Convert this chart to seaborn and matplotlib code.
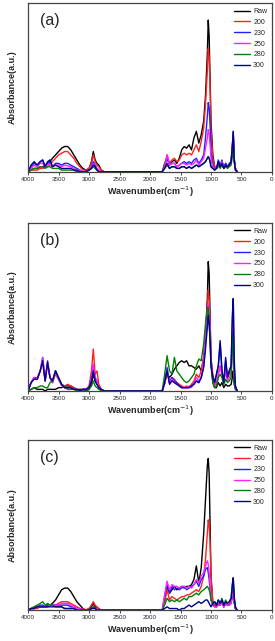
import numpy as np
import pandas as pd
import matplotlib
matplotlib.use('Agg')
import matplotlib.pyplot as plt
import seaborn as sns

# wavenumber grid (cm-1), high-frequency block then fingerprint block
wn_high = [4000, 3950, 3900, 3850, 3800, 3760, 3720, 3680, 3640, 3600,
           3550, 3500, 3450, 3400, 3350, 3300, 3250, 3200, 3150, 3100,
           3050, 3000, 2960, 2930, 2900, 2870, 2840, 2800, 2750]
wn_low = [1800, 1760, 1720, 1680, 1640, 1600, 1560, 1520, 1480, 1440,
          1400, 1360, 1320, 1280, 1240, 1200, 1160, 1120, 1090, 1060,
          1045, 1030, 1015, 1000, 970, 940, 910, 880, 850, 820,
          790, 760, 730, 700, 670, 650, 635, 620, 600, 570]

samples = ['Raw', '200', '230', '250', '280', '300']
colors = ['#000000', '#ff2020', '#2020ff', '#ff20ff', '#008000', '#000090']
panel_labels = ['(a)', '(b)', '(c)']

# ---- panel (a)
a_raw = [0, 0.01, 0.02, 0.02, 0.03, 0.03, 0.04, 0.05, 0.06, 0.08, 0.10, 0.12, 0.14, 0.15, 0.15, 0.13, 0.10, 0.07, 0.04, 0.02, 0.01, 0.02, 0.06, 0.12, 0.07, 0.05, 0.04, 0.01, 0,
         0, 0.05, 0.08, 0.05, 0.06, 0.07, 0.05, 0.08, 0.13, 0.15, 0.14, 0.16, 0.13, 0.20, 0.24, 0.17, 0.22, 0.30, 0.45, 0.70, 0.90, 0.80, 0.55, 0.30, 0.10, 0.03, 0.02, 0.04, 0.03, 0.06, 0.02, 0.05, 0.03, 0.04, 0.06, 0.15, 0.22, 0.08, 0.02, 0]
a_200 = [0, 0.01, 0.01, 0.01, 0.02, 0.02, 0.03, 0.03, 0.04, 0.06, 0.08, 0.10, 0.11, 0.12, 0.12, 0.10, 0.08, 0.05, 0.03, 0.01, 0.01, 0.02, 0.05, 0.10, 0.06, 0.04, 0.03, 0.01, 0,
         0, 0.04, 0.10, 0.05, 0.07, 0.08, 0.06, 0.07, 0.10, 0.11, 0.10, 0.11, 0.10, 0.13, 0.16, 0.12, 0.18, 0.26, 0.40, 0.60, 0.73, 0.68, 0.50, 0.25, 0.08, 0.03, 0.02, 0.03, 0.03, 0.05, 0.02, 0.04, 0.03, 0.04, 0.05, 0.13, 0.20, 0.07, 0.02, 0]
a_230 = [0, 0.03, 0.05, 0.04, 0.06, 0.07, 0.03, 0.05, 0.07, 0.03, 0.05, 0.05, 0.04, 0.05, 0.05, 0.04, 0.03, 0.02, 0.01, 0, 0, 0.01, 0.03, 0.06, 0.04, 0.02, 0.01, 0, 0,
         0, 0.03, 0.08, 0.04, 0.05, 0.05, 0.03, 0.04, 0.05, 0.06, 0.05, 0.06, 0.05, 0.07, 0.08, 0.05, 0.07, 0.10, 0.20, 0.33, 0.41, 0.38, 0.28, 0.12, 0.04, 0.02, 0.02, 0.07, 0.04, 0.07, 0.02, 0.05, 0.03, 0.05, 0.06, 0.15, 0.24, 0.08, 0.02, 0]
a_250 = [0, 0.02, 0.04, 0.03, 0.05, 0.05, 0.03, 0.04, 0.05, 0.03, 0.04, 0.04, 0.03, 0.04, 0.035, 0.03, 0.02, 0.01, 0.01, 0, 0, 0.01, 0.03, 0.05, 0.03, 0.02, 0.01, 0, 0,
         0, 0.03, 0.10, 0.04, 0.05, 0.05, 0.03, 0.04, 0.05, 0.05, 0.04, 0.05, 0.04, 0.05, 0.07, 0.04, 0.06, 0.08, 0.14, 0.20, 0.25, 0.23, 0.16, 0.08, 0.03, 0.02, 0.02, 0.05, 0.03, 0.06, 0.02, 0.04, 0.03, 0.04, 0.05, 0.13, 0.22, 0.07, 0.02, 0]
a_280 = [0, 0.01, 0.02, 0.02, 0.03, 0.03, 0.02, 0.03, 0.03, 0.02, 0.02, 0.02, 0.01, 0.01, 0.01, 0.01, 0.01, 0, 0, 0, 0, 0.01, 0.02, 0.03, 0.02, 0.01, 0, 0, 0,
         0, 0.02, 0.04, 0.02, 0.03, 0.03, 0.02, 0.02, 0.03, 0.03, 0.02, 0.03, 0.02, 0.03, 0.04, 0.03, 0.04, 0.05, 0.06, 0.08, 0.09, 0.08, 0.06, 0.03, 0.02, 0.01, 0.02, 0.04, 0.02, 0.04, 0.02, 0.03, 0.02, 0.03, 0.04, 0.10, 0.20, 0.06, 0.01, 0]
a_300 = [0, 0.04, 0.06, 0.04, 0.06, 0.07, 0.03, 0.06, 0.07, 0.03, 0.04, 0.03, 0.02, 0.02, 0.02, 0.02, 0.01, 0.01, 0, 0, 0, 0.01, 0.02, 0.04, 0.03, 0.01, 0, 0, 0,
         0, 0.02, 0.05, 0.02, 0.03, 0.03, 0.02, 0.02, 0.03, 0.03, 0.02, 0.03, 0.02, 0.03, 0.04, 0.03, 0.04, 0.05, 0.06, 0.08, 0.09, 0.08, 0.06, 0.03, 0.02, 0.01, 0.02, 0.06, 0.03, 0.05, 0.02, 0.04, 0.03, 0.04, 0.06, 0.15, 0.24, 0.07, 0.01, 0]

# ---- panel (b)
b_raw = [0, 0.01, 0.02, 0.01, 0.01, 0.01, 0, 0.01, 0.01, 0.01, 0.01, 0.02, 0.02, 0.03, 0.03, 0.03, 0.02, 0.01, 0.01, 0.01, 0, 0.01, 0.04, 0.10, 0.06, 0.04, 0.03, 0.01, 0,
         0, 0.05, 0.10, 0.08, 0.10, 0.13, 0.15, 0.17, 0.18, 0.17, 0.18, 0.15, 0.15, 0.14, 0.13, 0.15, 0.12, 0.20, 0.35, 0.55, 0.77, 0.70, 0.45, 0.20, 0.05, 0.02, 0.02, 0.05, 0.03, 0.05, 0.02, 0.04, 0.03, 0.03, 0.04, 0.08, 0.12, 0.04, 0.01, 0]
b_200 = [0, 0.05, 0.08, 0.08, 0.12, 0.17, 0.06, 0.16, 0.08, 0.05, 0.10, 0.07, 0.04, 0.03, 0.04, 0.03, 0.02, 0.01, 0, 0.01, 0.01, 0.03, 0.12, 0.25, 0.10, 0.12, 0.04, 0.01, 0,
         0, 0.05, 0.12, 0.05, 0.08, 0.07, 0.05, 0.04, 0.03, 0.02, 0.03, 0.02, 0.04, 0.06, 0.10, 0.08, 0.12, 0.20, 0.35, 0.50, 0.60, 0.55, 0.40, 0.20, 0.10, 0.05, 0.03, 0.10, 0.15, 0.10, 0.05, 0.15, 0.08, 0.10, 0.12, 0.33, 0.25, 0.08, 0.02, 0]
b_230 = [0, 0.05, 0.08, 0.07, 0.12, 0.20, 0.06, 0.18, 0.08, 0.05, 0.12, 0.07, 0.04, 0.02, 0.02, 0.02, 0.01, 0.01, 0, 0.01, 0.01, 0.02, 0.08, 0.15, 0.08, 0.06, 0.02, 0.01, 0,
         0, 0.05, 0.14, 0.05, 0.08, 0.06, 0.05, 0.03, 0.02, 0.02, 0.02, 0.02, 0.03, 0.04, 0.06, 0.05, 0.08, 0.15, 0.30, 0.42, 0.48, 0.44, 0.35, 0.18, 0.08, 0.05, 0.10, 0.15, 0.28, 0.12, 0.05, 0.18, 0.08, 0.12, 0.15, 0.40, 0.55, 0.15, 0.03, 0]
b_250 = [0, 0.05, 0.08, 0.07, 0.12, 0.20, 0.06, 0.17, 0.08, 0.05, 0.11, 0.07, 0.03, 0.02, 0.02, 0.02, 0.01, 0.01, 0, 0.01, 0.01, 0.02, 0.08, 0.16, 0.08, 0.06, 0.02, 0.01, 0,
         0, 0.04, 0.12, 0.05, 0.07, 0.05, 0.04, 0.03, 0.02, 0.02, 0.02, 0.03, 0.02, 0.05, 0.08, 0.06, 0.08, 0.18, 0.35, 0.48, 0.52, 0.48, 0.36, 0.18, 0.06, 0.03, 0.06, 0.10, 0.15, 0.10, 0.05, 0.12, 0.06, 0.08, 0.10, 0.30, 0.40, 0.10, 0.02, 0]
b_280 = [0, 0.01, 0.02, 0.02, 0.03, 0.03, 0.02, 0.02, 0.05, 0.06, 0.12, 0.08, 0.04, 0.02, 0.01, 0.01, 0.01, 0, 0, 0, 0, 0.01, 0.03, 0.06, 0.03, 0.02, 0.01, 0, 0,
         0, 0.10, 0.21, 0.12, 0.10, 0.20, 0.12, 0.10, 0.08, 0.06, 0.05, 0.06, 0.08, 0.10, 0.15, 0.19, 0.18, 0.28, 0.40, 0.48, 0.50, 0.42, 0.30, 0.15, 0.05, 0.02, 0.03, 0.08, 0.10, 0.08, 0.04, 0.07, 0.05, 0.06, 0.08, 0.25, 0.35, 0.08, 0.02, 0]
b_300 = [0, 0.05, 0.07, 0.07, 0.12, 0.18, 0.06, 0.17, 0.08, 0.06, 0.12, 0.08, 0.04, 0.02, 0.02, 0.02, 0.01, 0.01, 0, 0.01, 0.01, 0.02, 0.06, 0.12, 0.06, 0.04, 0.02, 0.01, 0,
         0, 0.05, 0.12, 0.04, 0.06, 0.05, 0.04, 0.03, 0.02, 0.02, 0.02, 0.02, 0.03, 0.04, 0.06, 0.05, 0.08, 0.14, 0.25, 0.38, 0.45, 0.40, 0.30, 0.15, 0.08, 0.05, 0.10, 0.15, 0.30, 0.12, 0.05, 0.20, 0.08, 0.12, 0.15, 0.45, 0.55, 0.20, 0.03, 0]

# ---- panel (c)
c_raw = [0, 0.01, 0.01, 0.02, 0.02, 0.02, 0.02, 0.03, 0.03, 0.04, 0.06, 0.09, 0.12, 0.13, 0.13, 0.11, 0.08, 0.05, 0.03, 0.01, 0, 0.01, 0.02, 0.04, 0.02, 0.01, 0.01, 0, 0,
         0, 0.06, 0.14, 0.10, 0.12, 0.14, 0.12, 0.13, 0.14, 0.13, 0.14, 0.14, 0.15, 0.18, 0.26, 0.16, 0.25, 0.45, 0.65, 0.85, 0.89, 0.80, 0.50, 0.20, 0.04, 0.03, 0.02, 0.04, 0.03, 0.05, 0.02, 0.04, 0.03, 0.03, 0.05, 0.08, 0.12, 0.05, 0.01, 0]
c_200 = [0, 0.01, 0.01, 0.01, 0.02, 0.02, 0.02, 0.02, 0.03, 0.03, 0.03, 0.04, 0.05, 0.05, 0.05, 0.04, 0.03, 0.02, 0.01, 0.01, 0, 0.01, 0.03, 0.05, 0.03, 0.02, 0.01, 0, 0,
         0, 0.05, 0.12, 0.06, 0.08, 0.07, 0.06, 0.07, 0.08, 0.08, 0.09, 0.09, 0.10, 0.11, 0.12, 0.11, 0.14, 0.20, 0.30, 0.45, 0.53, 0.50, 0.40, 0.20, 0.05, 0.03, 0.02, 0.04, 0.03, 0.05, 0.02, 0.04, 0.03, 0.03, 0.05, 0.10, 0.15, 0.05, 0.01, 0]
c_230 = [0, 0.01, 0.02, 0.02, 0.03, 0.03, 0.02, 0.03, 0.03, 0.03, 0.03, 0.03, 0.03, 0.03, 0.03, 0.02, 0.02, 0.01, 0.01, 0, 0, 0, 0.01, 0.02, 0.01, 0.01, 0, 0, 0,
         0, 0.08, 0.16, 0.10, 0.14, 0.12, 0.13, 0.12, 0.13, 0.14, 0.12, 0.13, 0.14, 0.15, 0.17, 0.14, 0.18, 0.20, 0.24, 0.25, 0.22, 0.18, 0.12, 0.06, 0.03, 0.02, 0.02, 0.03, 0.03, 0.05, 0.02, 0.04, 0.03, 0.03, 0.04, 0.10, 0.16, 0.05, 0.01, 0]
c_250 = [0, 0.01, 0.01, 0.02, 0.02, 0.02, 0.02, 0.02, 0.03, 0.03, 0.03, 0.03, 0.04, 0.04, 0.04, 0.03, 0.02, 0.01, 0.01, 0, 0, 0, 0.01, 0.02, 0.01, 0.01, 0, 0, 0,
         0, 0.09, 0.17, 0.12, 0.15, 0.14, 0.14, 0.13, 0.14, 0.14, 0.13, 0.14, 0.13, 0.15, 0.18, 0.16, 0.20, 0.22, 0.26, 0.29, 0.27, 0.22, 0.15, 0.06, 0.03, 0.02, 0.02, 0.03, 0.03, 0.05, 0.02, 0.04, 0.03, 0.03, 0.04, 0.09, 0.14, 0.05, 0.01, 0]
c_280 = [0, 0.01, 0.02, 0.03, 0.04, 0.05, 0.03, 0.04, 0.03, 0.03, 0.02, 0.02, 0.02, 0.01, 0.01, 0.01, 0.01, 0, 0, 0, 0, 0, 0.01, 0.02, 0.01, 0, 0, 0, 0,
         0, 0.03, 0.07, 0.05, 0.06, 0.05, 0.06, 0.05, 0.06, 0.07, 0.06, 0.08, 0.08, 0.09, 0.10, 0.09, 0.11, 0.12, 0.13, 0.14, 0.13, 0.12, 0.10, 0.06, 0.04, 0.05, 0.03, 0.06, 0.04, 0.07, 0.03, 0.06, 0.04, 0.05, 0.07, 0.15, 0.19, 0.08, 0.02, 0]
c_300 = [0, 0.01, 0.01, 0.02, 0.02, 0.02, 0.02, 0.02, 0.02, 0.02, 0.02, 0.02, 0.02, 0.01, 0.01, 0.01, 0.01, 0, 0, 0, 0, 0, 0.01, 0.01, 0.01, 0, 0, 0, 0,
         0, 0.01, 0.02, 0.01, 0.01, 0.01, 0.01, 0, 0.01, 0.01, 0.02, 0.03, 0.02, 0.03, 0.04, 0.05, 0.04, 0.05, 0.06, 0.06, 0.05, 0.04, 0.03, 0.02, 0.04, 0.05, 0.03, 0.06, 0.04, 0.06, 0.03, 0.05, 0.04, 0.05, 0.07, 0.15, 0.19, 0.08, 0.02, 0]

panels = [
    [a_raw, a_200, a_230, a_250, a_280, a_300],
    [b_raw, b_200, b_230, b_250, b_280, b_300],
    [c_raw, c_200, c_230, c_250, c_280, c_300],
]

if __name__ == '__main__':
    sns.set_style('ticks')
    plt.rcParams['font.family'] = ['Liberation Sans', 'DejaVu Sans']

    wn = wn_high + wn_low
    fig = plt.figure(figsize=(2.75, 6.41), dpi=100)
    # axes boxes [left, bottom, width, height] in figure fractions
    boxes = [[0.102, 0.732, 0.887, 0.263],
             [0.102, 0.390, 0.887, 0.262],
             [0.102, 0.048, 0.887, 0.266]]

    for box, series, lab in zip(boxes, panels, panel_labels):
        ax = fig.add_axes(box)
        rows = []
        for name, ys in zip(samples, series):
            assert len(ys) == len(wn), (lab, name, len(ys))
            rows.append(pd.DataFrame({'wn': wn, 'abs': ys, 'sample': name}))
        df = pd.concat(rows, ignore_index=True)

        sns.lineplot(data=df, x='wn', y='abs', hue='sample',
                     palette=dict(zip(samples, colors)), estimator=None,
                     sort=False, linewidth=1.0, ax=ax)

        ax.set_xlim(4000, 0)
        ax.set_ylim(0, 1.0)
        ax.set_xticks(np.arange(4000, -1, -500))
        ax.set_yticks([])
        ax.tick_params(axis='x', labelsize=4.5, length=2, width=0.6, pad=1.5)
        for s in ax.spines.values():
            s.set_color('#444444')
            s.set_linewidth(0.9)
        ax.set_xlabel('Wavenumber(cm$^{-1}$)', fontsize=6.5,
                      fontweight='bold', labelpad=2)
        ax.set_ylabel('Absorbance(a.u.)', fontsize=6.5,
                      fontweight='bold', labelpad=8)
        ax.text(0.05, 0.94, lab, transform=ax.transAxes, fontsize=11.5,
                va='top', ha='left')
        ax.legend(loc='upper right', frameon=False, fontsize=5,
                  handlelength=2.3, labelspacing=0.55, borderaxespad=0.3,
                  handletextpad=0.5)

    fig.savefig('out.png', dpi=100)
